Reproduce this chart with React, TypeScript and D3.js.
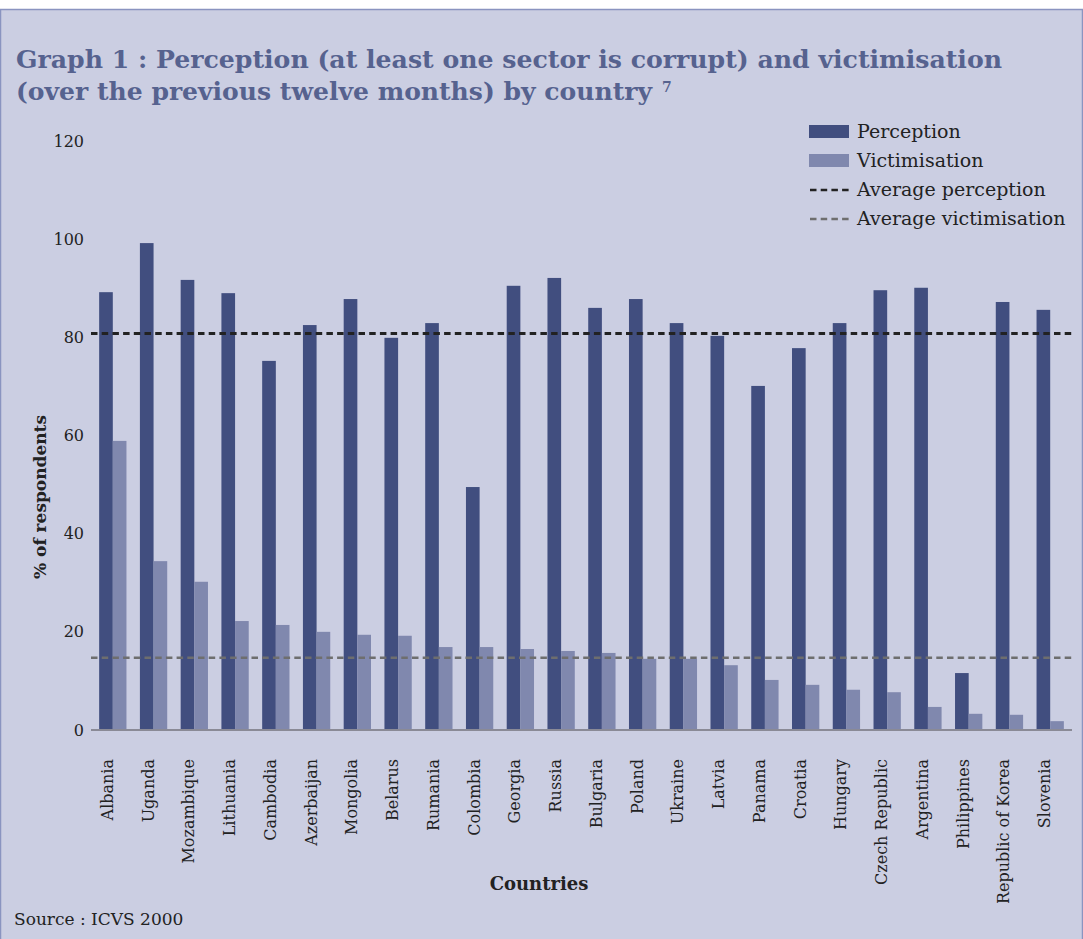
import { useEffect, useRef } from "react";
import * as d3 from "d3";

const countries = [
  "Albania", "Uganda", "Mozambique", "Lithuania", "Cambodia", "Azerbaijan",
  "Mongolia", "Belarus", "Rumania", "Colombia", "Georgia", "Russia",
  "Bulgaria", "Poland", "Ukraine", "Latvia", "Panama", "Croatia", "Hungary",
  "Czech Republic", "Argentina", "Philippines", "Republic of Korea", "Slovenia",
];

const perception = [
  89.2, 99.2, 91.7, 89.0, 75.2, 82.5, 87.8, 79.9, 82.9, 49.5, 90.5, 92.1,
  86.0, 87.8, 82.9, 80.3, 70.1, 77.8, 82.9, 89.6, 90.1, 11.6, 87.2, 85.6,
];

const victimisation = [
  58.9, 34.4, 30.2, 22.2, 21.4, 20.0, 19.4, 19.2, 16.9, 16.9, 16.5, 16.1,
  15.7, 14.5, 14.5, 13.2, 10.2, 9.2, 8.2, 7.7, 4.7, 3.3, 3.1, 1.8,
];

const avgPerception = 80.8;
const avgVictimisation = 14.7;

const yTicks = [0, 20, 40, 60, 80, 100, 120];

const W = 1083;
const H = 939;
const FONT = "'DejaVu Serif', serif";

export default function App() {
  const ref = useRef<SVGSVGElement>(null);

  useEffect(() => {
    const svg = d3.select(ref.current);
    svg.selectAll("*").remove();

    const x0 = 91;
    const x1 = 1072;
    const yBase = 730;

    const x = d3.scaleBand<string>().domain(countries).range([x0, x1]).paddingInner(0.33).paddingOuter(0.2);
    const xs = d3.scaleBand<string>().domain(["p", "v"]).range([0, x.bandwidth()]);
    const y = d3.scaleLinear().domain([0, 120]).range([yBase, 141]);

    // background and frame
    svg.append("rect").attr("x", 0).attr("y", 0).attr("width", W).attr("height", H).attr("fill", "#ffffff");
    svg
      .append("rect")
      .attr("x", 0.5)
      .attr("y", 9.5)
      .attr("width", W - 1)
      .attr("height", H)
      .attr("fill", "#cbcee2")
      .attr("stroke", "#8a94c0")
      .attr("stroke-width", 1.5);

    // title
    const title = svg.append("g").attr("fill", "#56628f").attr("font-family", FONT).attr("font-weight", "bold");
    title
      .append("text")
      .attr("x", 16)
      .attr("y", 68)
      .attr("font-size", 25)
      .attr("textLength", 986)
      .attr("lengthAdjust", "spacingAndGlyphs")
      .text("Graph 1 : Perception (at least one sector is corrupt) and victimisation");
    title
      .append("text")
      .attr("x", 16)
      .attr("y", 100)
      .attr("font-size", 25)
      .attr("textLength", 636)
      .attr("lengthAdjust", "spacingAndGlyphs")
      .text("(over the previous twelve months) by country");
    title.append("text").attr("x", 662).attr("y", 92).attr("font-size", 14).text("7");

    // y ticks
    svg
      .append("g")
      .selectAll("text")
      .data(yTicks)
      .enter()
      .append("text")
      .attr("x", 84)
      .attr("y", (d) => y(d))
      .attr("dy", "0.35em")
      .attr("text-anchor", "end")
      .attr("font-family", FONT)
      .attr("font-size", 16)
      .attr("fill", "#222")
      .text((d) => d);

    svg
      .append("text")
      .attr("transform", `translate(46,497) rotate(-90)`)
      .attr("text-anchor", "middle")
      .attr("font-family", FONT)
      .attr("font-weight", "bold")
      .attr("font-size", 17)
      .attr("fill", "#222")
      .text("% of respondents");

    // bars
    const groups = svg
      .append("g")
      .selectAll("g")
      .data(countries)
      .enter()
      .append("g")
      .attr("transform", (d) => `translate(${x(d)},0)`);

    groups
      .append("rect")
      .attr("x", xs("p")!)
      .attr("width", xs.bandwidth())
      .attr("y", (_, i) => y(perception[i]))
      .attr("height", (_, i) => yBase - y(perception[i]))
      .attr("fill", "#414e7f");

    groups
      .append("rect")
      .attr("x", xs("v")!)
      .attr("width", xs.bandwidth())
      .attr("y", (_, i) => y(victimisation[i]))
      .attr("height", (_, i) => yBase - y(victimisation[i]))
      .attr("fill", "#8088ae");

    // axis line
    svg
      .append("line")
      .attr("x1", x0)
      .attr("x2", x1)
      .attr("y1", yBase)
      .attr("y2", yBase)
      .attr("stroke", "#8a8a96")
      .attr("stroke-width", 2);

    // average lines
    svg
      .append("line")
      .attr("x1", x0)
      .attr("x2", x1)
      .attr("y1", y(avgPerception))
      .attr("y2", y(avgPerception))
      .attr("stroke", "#222")
      .attr("stroke-width", 3)
      .attr("stroke-dasharray", "6.5,4.2");
    svg
      .append("line")
      .attr("x1", x0)
      .attr("x2", x1)
      .attr("y1", y(avgVictimisation))
      .attr("y2", y(avgVictimisation))
      .attr("stroke", "#6e6e6e")
      .attr("stroke-width", 2.5)
      .attr("stroke-dasharray", "6.5,4.2");

    // x labels
    svg
      .append("g")
      .selectAll("text")
      .data(countries)
      .enter()
      .append("text")
      .attr("transform", (d) => `translate(${x(d)! + x.bandwidth() / 2},759) rotate(-90)`)
      .attr("text-anchor", "end")
      .attr("font-family", FONT)
      .attr("font-size", 16)
      .attr("fill", "#222")
      .text((d) => d);

    svg
      .append("text")
      .attr("x", 539)
      .attr("y", 890)
      .attr("text-anchor", "middle")
      .attr("font-family", FONT)
      .attr("font-weight", "bold")
      .attr("font-size", 18)
      .attr("fill", "#222")
      .text("Countries");

    svg
      .append("text")
      .attr("x", 14)
      .attr("y", 925)
      .attr("font-family", FONT)
      .attr("font-size", 17)
      .attr("fill", "#222")
      .text("Source : ICVS 2000");

    // legend
    const legend = svg.append("g").attr("font-family", FONT).attr("font-size", 19).attr("fill", "#222");
    const items = [
      { label: "Perception", kind: "rect", color: "#414e7f" },
      { label: "Victimisation", kind: "rect", color: "#8088ae" },
      { label: "Average perception", kind: "line", color: "#222" },
      { label: "Average victimisation", kind: "line", color: "#6e6e6e" },
    ];
    items.forEach((it, i) => {
      const cy = 131 + i * 29;
      if (it.kind === "rect") {
        legend.append("rect").attr("x", 809).attr("y", cy - 6).attr("width", 40).attr("height", 13).attr("fill", it.color);
      } else {
        legend
          .append("line")
          .attr("x1", 810)
          .attr("x2", 849)
          .attr("y1", cy + 1)
          .attr("y2", cy + 1)
          .attr("stroke", it.color)
          .attr("stroke-width", 2.5)
          .attr("stroke-dasharray", "6.5,4.2");
      }
      legend.append("text").attr("x", 857).attr("y", cy).attr("dy", "0.35em").text(it.label);
    });
  }, []);

  return (
    <div style={{ position: "absolute", left: 0, top: 0 }}>
      <svg ref={ref} width={W} height={H} style={{ display: "block" }}></svg>
    </div>
  );
}
